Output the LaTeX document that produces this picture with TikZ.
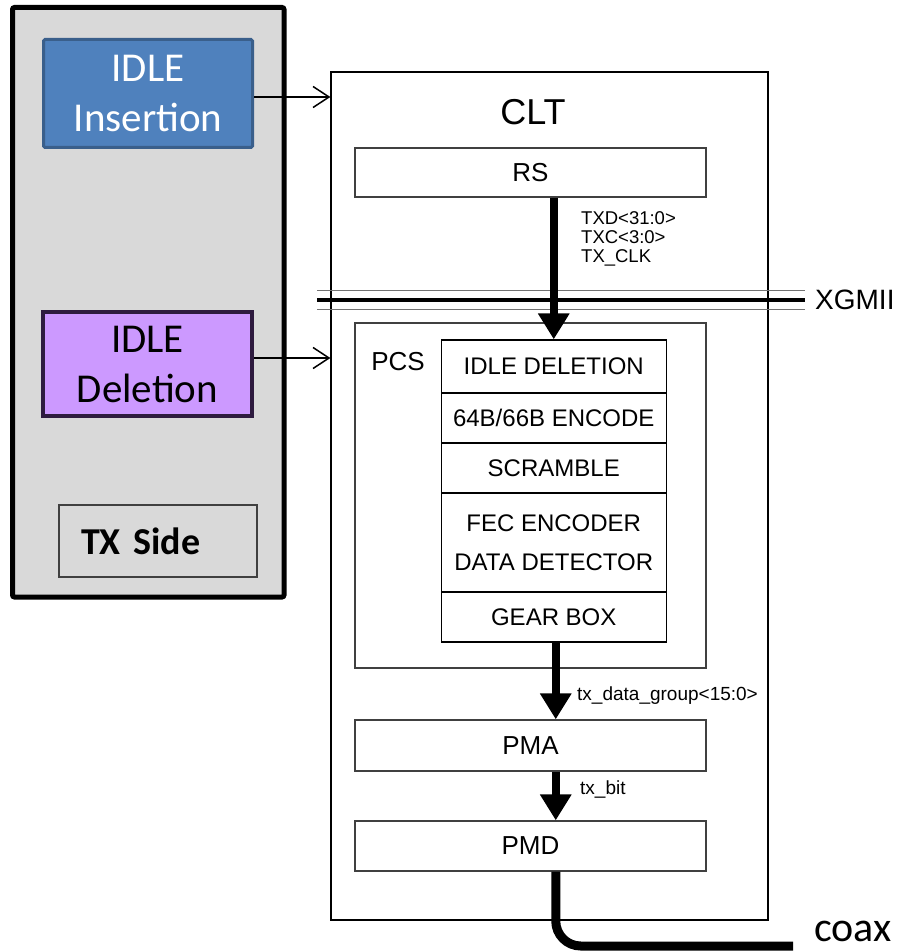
\documentclass[tikz,border=0pt]{standalone}
\usepackage{fontspec}
\setmainfont{Liberation Sans}
\newfontfamily\carl{Carlito}
\usetikzlibrary{arrows.meta}
\definecolor{panelgray}{HTML}{D9D9D9}
\definecolor{insfill}{HTML}{4F81BD}
\definecolor{insdraw}{HTML}{3A5F8B}
\definecolor{delfill}{HTML}{CC99FF}
\definecolor{deldraw}{HTML}{2E1B3F}
\definecolor{boxgray}{HTML}{404040}
\newcommand{\fs}[2]{\fontsize{#1pt}{#2pt}\selectfont}
\begin{document}
\begin{tikzpicture}[x=1pt,y=-1pt,
  box/.style={draw=boxgray, line width=1.3pt, inner sep=0pt, fill=white, minimum width=351pt, font=\fs{26}{30}},
  stackbox/.style={draw=black, line width=1.3pt, inner sep=0pt, minimum width=225pt, align=center, font=\fs{24}{39}},
  fatarrow/.style={line width=8pt, -{Triangle[length=26pt,width=30pt]}},
  thinarrow/.style={line width=1.5pt, -{Straight Barb[length=16pt,width=21pt]}},
  leftbox/.style={inner sep=0pt, align=center, font=\carl\fs{41}{50}},
  small/.style={inner sep=0pt, align=left, font=\fs{19}{22}}
]
\useasboundingbox (0,0) rectangle (904,952);

% left panel
\node[draw=black, line width=5pt, fill=panelgray, rounded corners=2pt,
      minimum width=271.5pt, minimum height=589.5pt, inner sep=0pt] (panel) at (148.25,302.25) {};
\node[leftbox, draw=insdraw, fill=insfill, line width=3pt, rounded corners=1.5pt, text=white,
      minimum width=209pt, minimum height=108pt] (ins) at (148,93.5) {IDLE\\Insertion};
\node[leftbox, draw=deldraw, fill=delfill, line width=4pt, text=black,
      minimum width=209pt, minimum height=104pt] (del) at (147.5,364) {IDLE\\Deletion};
\node[draw=boxgray, line width=1.5pt, minimum width=198pt, minimum height=72pt, inner sep=0pt,
      text width=154pt, align=left, font=\carl\bfseries\fs{38}{44}] (txs) at (158,541) {TX Side};

% CLT
\node[draw=black, line width=1.2pt, minimum width=437pt, minimum height=848pt, inner sep=0pt] (clt) at (549.5,496) {};
\node[inner sep=0pt, font=\fs{36}{40}] (cltlbl) at (533,112) {CLT};

\node[box, minimum height=49pt] (rs) at (530.5,172.5) {RS};

% XGMII
\coordinate (xl) at (317,300);
\coordinate (xr) at (805,300);
\draw[line width=1pt, black!55] ([yshift=9.5pt]xl) -- ([yshift=9.5pt]xr);
\draw[line width=1pt, black!55] ([yshift=-9.5pt]xl) -- ([yshift=-9.5pt]xr);
\draw[line width=4pt] (xl) -- (xr);
\node[inner sep=0pt, anchor=west, font=\fs{28}{32}] (xg) at (815,300) {XGMII};

% PCS
\node[box, minimum height=345pt] (pcs) at (530.5,495.5) {};
\node[inner sep=0pt, font=\fs{26}{30}] (pcslbl) at (398,362) {PCS};
\node[stackbox, minimum height=53pt] (idle) at (553.75,366.5) {IDLE DELETION};
\node[stackbox, minimum height=50pt] (enc) at (553.75,418) {64B/66B ENCODE};
\node[stackbox, minimum height=50pt] (scr) at (553.75,468) {SCRAMBLE};
\node[stackbox, minimum height=99pt] (fec) at (553.75,542.5) {FEC ENCODER\\DATA DETECTOR};
\node[stackbox, minimum height=50pt] (gear) at (553.75,617) {GEAR BOX};

\node[box, minimum height=51pt] (pma) at (530.5,745.5) {PMA};
\node[box, minimum height=50pt] (pmd) at (530.5,846) {PMD};

% arrows
\draw[fatarrow] (rs.south -| idle.north) -- (idle.north);
\node[small, anchor=west, font=\fs{18.5}{19}] (txd) at (581,239) {TXD<31:0>\\TXC<3:0>\\TX\_CLK};
\draw[fatarrow] ([xshift=2pt]gear.south) -- ([xshift=2pt]gear.south |- pma.north);
\node[small, anchor=west] (tdg) at (577,696) {tx\_data\_group<15:0>};
\draw[fatarrow] ([xshift=2pt]pma.south -| gear.south) -- ([xshift=2pt]pmd.north -| gear.south);
\node[small, anchor=west] (txb) at (580,789) {tx\_bit};

\coordinate (coaxend) at (793,946);
\draw[line width=9pt, rounded corners=25pt] ([xshift=2pt]pmd.south -| gear.south) |- (coaxend);
\node[inner sep=0pt, anchor=base west, font=\carl\fs{42}{46}] (coax) at (814,941) {coax};

\draw[thinarrow] ([yshift=-3.5pt]ins.east) -- ([yshift=-3.5pt]ins.east -| clt.west);
\draw[thinarrow] ([yshift=6pt]del.east) -- ([yshift=6pt]del.east -| clt.west);
\end{tikzpicture}
\end{document}
